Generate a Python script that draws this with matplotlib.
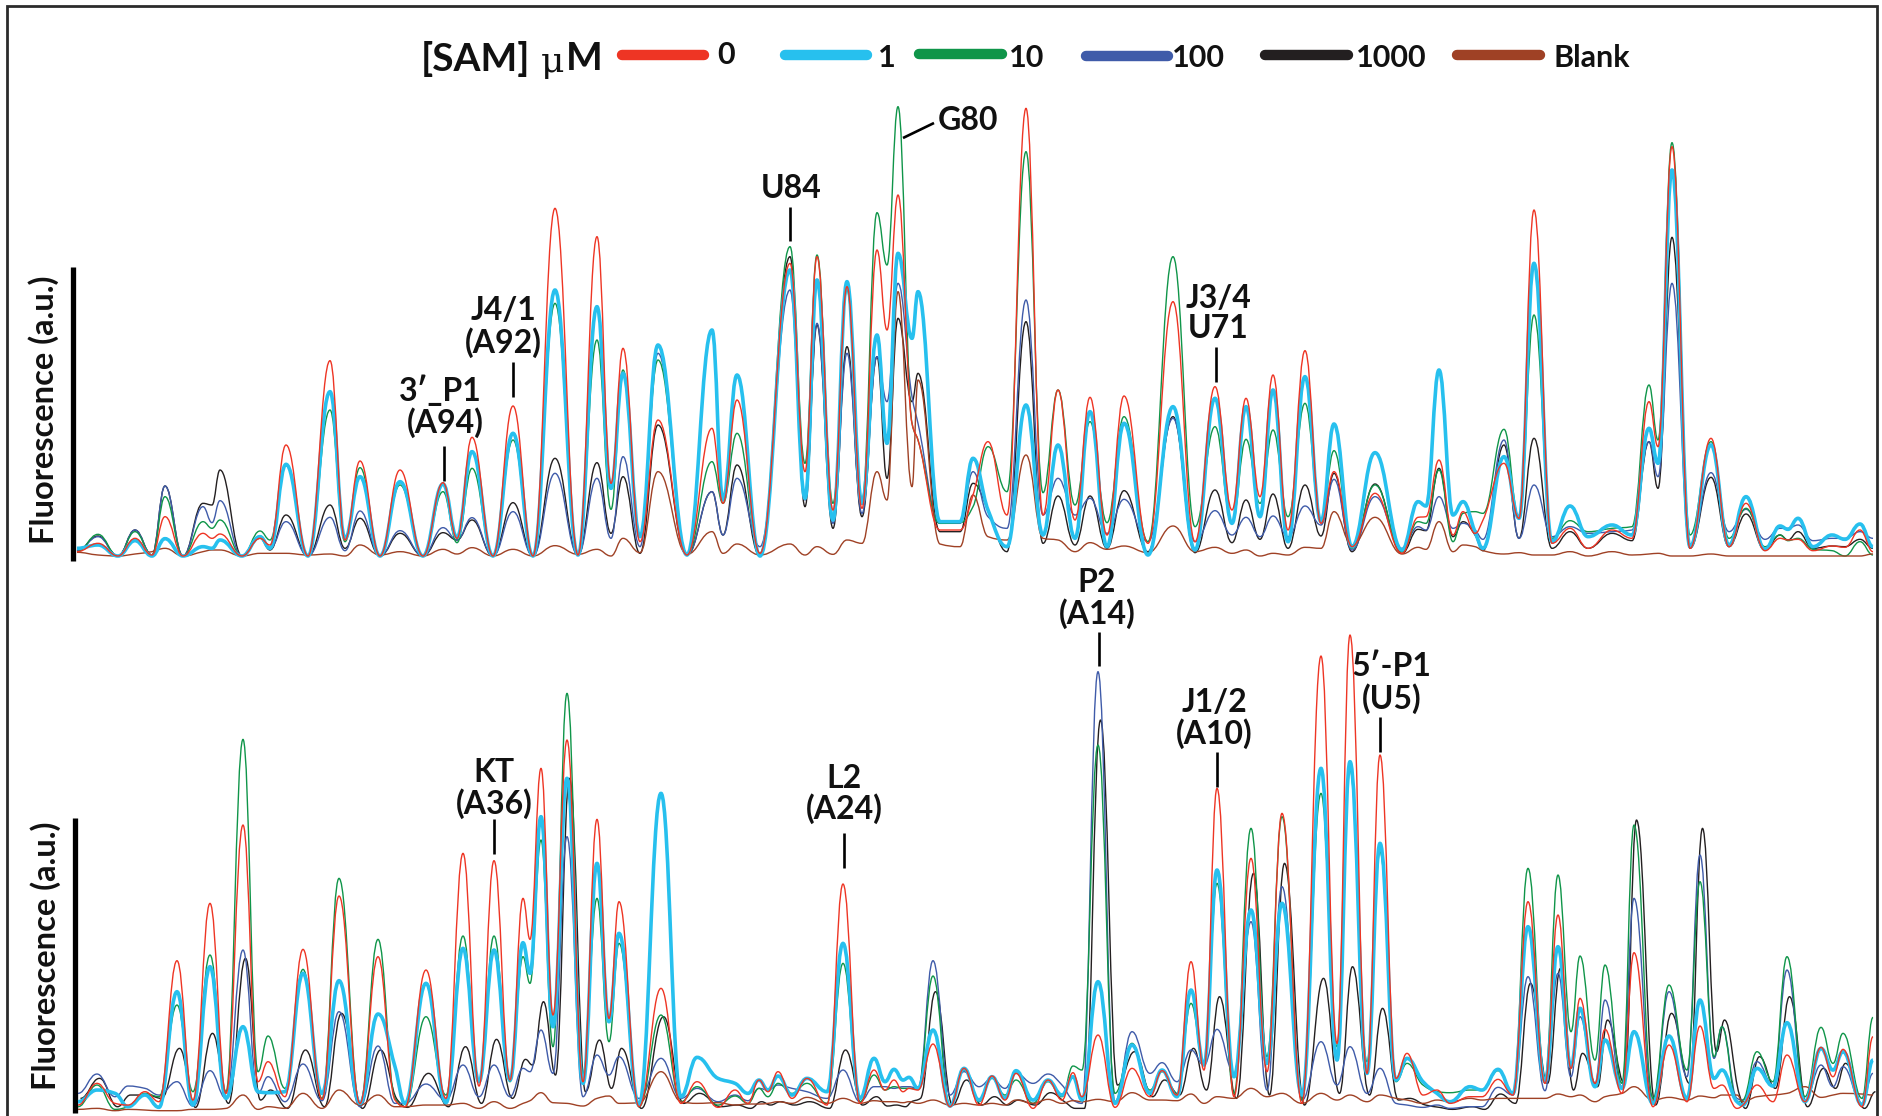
import numpy as np
import matplotlib
matplotlib.use('Agg')
import matplotlib.pyplot as plt
from matplotlib.path import Path
from matplotlib.patches import PathPatch

plt.rcParams['font.family'] = ['Lato', 'DejaVu Sans']

W, H = 1883, 1116
TOP_BASE = 556
BOT_BASE = 1110.7
UNITS_PER_PX = 3.0

# electropherogram readings: position along the trace, signal height (a.u.)
top_x = [77,98,118,135,152,165,183,203,212,220,242,260,270,286,308,330,345,360,380,400,423,443,457,472,493,513,533,
         555,578,597,611,623,640,658,687,712,723,737,760,790,805,817,833,847,862,877,887,898,912,918,940,960,973,988,1007,1026,
         1043,1058,1075,1090,1107,1124,1148,1173,1195,1215,1232,1246,1260,1273,1288,1305,1321,1334,1352,1375,1402,1418,1426,1439,1453,1463,
         1475,1483,1504,1519,1534,1552,1570,1588,1612,1632,1649,1658,1672,1690,1711,1729,1746,1765,1780,1788,1798,1813,1832,1845,1860,1873]
top_0 = [13,38,0,53,3,118,0,68,53,66,0,53,33,333,0,586,48,285,0,258,0,220,53,356,0,450,0,
         1043,3,958,218,623,43,408,3,383,158,468,8,878,253,898,138,808,143,918,678,1083,398,348,78,78,183,343,123,1343,
         123,498,108,476,63,480,38,763,43,508,138,473,178,543,78,616,98,253,28,188,8,116,118,288,63,133,
         68,108,278,113,1038,38,83,23,78,53,463,328,1228,23,353,28,158,16,53,48,50,16,30,26,78,13]
top_1 = [23,33,0,46,0,52,0,28,23,48,0,58,23,275,0,493,53,238,0,223,0,216,56,313,0,368,0,
         798,3,748,203,548,58,633,3,678,168,543,0,858,173,828,108,823,158,663,338,908,653,793,103,103,293,138,28,453,
         63,333,53,433,28,398,3,448,18,473,98,448,118,498,43,538,103,396,28,310,18,163,150,558,123,163,
         73,23,298,113,878,43,150,58,93,63,383,278,1158,28,333,33,178,20,90,80,113,28,63,50,96,28]
top_10 = [13,65,0,73,3,178,0,103,83,108,0,75,48,273,0,438,43,265,0,213,0,193,40,263,0,348,0,
          758,3,648,140,558,58,588,3,283,158,368,8,928,278,903,158,798,168,1030,873,1348,398,348,98,100,148,328,193,1213,
          190,498,153,403,100,418,43,898,88,388,98,350,158,378,118,458,108,316,23,213,13,103,98,258,43,128,
          133,128,380,113,723,53,106,73,83,88,513,348,1240,63,343,53,143,28,63,46,53,20,16,0,43,3]
top_100 = [16,58,0,78,3,210,0,148,100,166,0,60,23,103,0,116,16,135,0,76,0,85,48,115,0,133,0,
           248,3,233,53,298,28,608,3,193,63,233,28,798,168,698,98,608,128,598,463,818,478,398,98,98,253,118,83,768,
           123,233,123,173,68,170,43,413,43,136,63,116,58,120,58,150,93,230,18,178,23,88,78,178,83,98,
           78,50,348,53,213,58,88,68,73,78,343,238,818,28,250,73,140,50,83,83,93,46,53,53,73,53]
top_1000 = [16,60,0,78,3,210,0,158,153,258,0,53,18,123,0,153,23,113,0,68,0,70,48,108,0,160,0,
            293,3,280,68,238,8,393,3,193,63,273,0,898,148,693,83,628,118,598,233,713,463,548,73,73,218,138,13,703,
            38,180,33,180,23,196,13,418,10,198,40,168,50,186,23,213,60,248,13,216,8,80,76,263,58,103,
            63,16,333,53,353,23,73,23,68,46,343,203,956,23,236,28,126,18,63,48,73,23,30,28,50,23]
top_blank = [11,3,0,6,13,23,0,13,18,18,0,8,8,8,3,6,0,33,3,13,0,20,6,25,0,20,0,
             31,5,20,0,53,10,253,5,73,8,36,3,36,3,28,5,48,38,253,168,793,208,528,36,28,183,58,48,303,
             53,48,13,40,20,30,10,90,13,26,8,18,0,8,3,26,23,133,33,116,6,26,20,103,13,33,
             28,16,6,10,3,3,13,0,13,3,6,8,0,0,6,0,0,0,0,0,0,0,0,0,0,6]

bot_x = [78,97,115,128,145,159,177,193,210,226,243,258,268,285,303,322,339,360,378,395,405,426,446,463,479,494,510,523,530,
         541,553,567,583,597,609,619,639,661,681,697,718,735,748,759,768,778,792,807,827,843,860,874,885,894,903,909,918,933,950,964,979,992,1005,
         1016,1033,1048,1062,1073,1082,1098,1115,1132,1150,1162,1177,1191,1204,1217,1234,1251,1267,1282,1302,1321,1337,1350,1367,1380,1396,1407,1423,1437,1450,1470,
         1482,1498,1513,1528,1545,1558,1571,1580,1595,1605,1622,1634,1653,1669,1687,1700,1714,1722,1737,1743,1757,1773,1787,1805,1821,1833,1843,1862,1873]
bot_0 = [17,82,22,17,57,27,450,32,622,52,857,87,147,42,484,34,644,22,462,32,12,422,37,772,74,750,92,637,514,
         1027,287,1112,87,874,277,627,12,367,22,87,10,62,22,92,57,117,37,97,17,680,22,122,62,92,57,67,62,200,12,127,17,104,32,
         112,7,92,32,114,42,227,10,127,42,120,47,447,122,967,42,757,117,892,22,1364,202,1427,112,1067,97,172,47,62,22,42,
         42,94,47,627,82,587,127,337,82,244,52,474,12,197,27,254,67,77,7,17,77,27,167,27,190,102,184,12,222]
bot_1 = [27,62,52,12,47,10,357,17,432,37,252,57,54,57,412,52,390,22,290,132,22,382,24,487,87,482,92,504,412,
         882,252,997,82,742,267,532,17,952,42,160,97,82,52,92,62,104,47,97,57,502,37,157,87,124,92,100,67,242,14,127,32,102,37,
         120,32,92,47,102,32,387,22,197,52,122,42,362,137,722,102,602,142,622,47,1027,152,1047,112,802,92,157,87,52,27,72,
         62,124,52,552,87,492,132,307,72,212,67,237,22,224,37,332,97,122,27,17,127,74,264,27,187,122,177,17,152]
bot_10 = [12,77,4,12,52,42,317,57,467,57,1114,117,224,67,424,37,697,22,514,37,12,282,47,524,87,524,87,462,382,
          812,192,1252,112,637,207,502,12,287,27,72,17,44,22,67,42,82,52,82,22,442,27,107,62,72,67,67,64,404,17,122,27,97,47,
          92,22,87,42,134,122,1097,52,202,62,117,52,322,137,682,52,847,162,882,32,952,192,1022,147,777,87,142,77,57,54,62,
          62,120,52,727,97,707,237,464,152,437,82,857,37,377,122,687,162,252,27,32,177,87,462,42,250,142,232,37,280]
bot_100 = [52,110,42,74,67,47,87,14,120,37,482,52,102,27,140,30,297,12,194,22,22,80,32,137,42,137,42,127,117,
           242,112,822,42,167,107,162,37,157,37,67,27,47,30,67,62,77,67,57,37,122,27,72,72,67,72,72,67,450,47,117,72,97,67,
           112,82,110,77,32,22,1317,27,237,112,144,87,182,137,244,112,567,62,672,32,207,77,192,52,127,22,17,10,17,7,12,
           12,70,47,402,60,412,102,282,77,332,72,637,22,357,102,767,157,252,37,32,147,77,422,32,137,72,132,22,112]
bot_1000 = [37,97,12,47,47,37,187,10,232,22,457,32,62,7,182,12,292,7,182,32,10,112,12,192,22,214,37,154,137,
            327,107,997,57,212,67,187,7,282,22,52,12,17,7,27,17,27,17,27,7,182,17,42,14,17,12,27,37,357,17,92,17,42,17,
            32,17,54,27,7,7,1172,77,177,42,92,47,187,62,342,37,712,47,742,17,397,52,432,47,307,32,37,17,10,4,12,
            4,50,22,382,82,427,62,172,72,272,82,872,17,292,82,847,177,272,47,7,162,67,342,12,127,67,142,7,57]
bot_blank = [4,7,0,4,2,0,0,4,4,7,47,4,12,7,52,7,62,17,47,12,12,17,17,22,7,27,7,22,30,
             54,24,22,14,37,44,22,24,117,27,22,24,17,20,20,22,27,22,40,22,37,22,30,27,27,24,27,22,32,17,22,17,22,17,
             32,22,34,22,30,27,34,27,54,32,32,30,50,22,42,37,67,42,52,22,52,32,47,27,47,37,32,22,32,27,37,
             32,37,37,37,37,50,42,47,27,42,52,72,32,40,32,44,39,47,47,27,42,47,52,72,40,47,52,50,47]

conc_labels = ['0', '1', '10', '100', '1000', 'Blank']

RED, CYAN, GREEN, BLUE, BLACK, BROWN = '#ee3524', '#27c0ee', '#0f9549', '#3f5ba9', '#231f20', '#9f4125'
colors = [RED, CYAN, GREEN, BLUE, BLACK, BROWN]
widths = [1.0, 2.6, 1.0, 1.0, 1.0, 1.0]
draw_order = [4, 3, 2, 5, 1, 0]


def trace_path(x, y):
    # smooth curve through the readings, flat at every peak and valley
    x = np.asarray(x, float)
    y = np.asarray(y, float)
    h = np.diff(x)
    d = np.diff(y) / h
    m = np.zeros_like(y)
    for i in range(1, len(y) - 1):
        if d[i - 1] * d[i] > 0:
            m[i] = 2 * d[i - 1] * d[i] / (d[i - 1] + d[i])
    verts = [(x[0], y[0])]
    codes = [Path.MOVETO]
    for i in range(len(h)):
        verts += [(x[i] + h[i] * 0.42, y[i] + m[i] * h[i] * 0.42),
                  (x[i + 1] - h[i] * 0.42, y[i + 1] - m[i + 1] * h[i] * 0.42),
                  (x[i + 1], y[i + 1])]
        codes += [Path.CURVE4] * 3
    return Path(verts, codes)


def draw_panel(ax, x, series, shifts):
    for i in draw_order:
        xs = np.asarray(x, float) + shifts[i]
        ax.add_patch(PathPatch(trace_path(xs, series[i]), fill=False, edgecolor=colors[i],
                               linewidth=widths[i], joinstyle='round', clip_on=False))


fig = plt.figure(figsize=(W / 100, H / 100), dpi=100, facecolor='white')

# overlay in image pixels for frame, labels, scale bars
ax0 = fig.add_axes([0, 0, 1, 1])
ax0.set_xlim(0, W)
ax0.set_ylim(H, 0)
ax0.axis('off')

ax_top = fig.add_axes([0, (H - TOP_BASE) / H, 1, 480 / H])
ax_top.set_xlim(0, W)
ax_top.set_ylim(0, 480 * UNITS_PER_PX)
ax_top.axis('off')

ax_bot = fig.add_axes([0, (H - BOT_BASE) / H, 1, 500 / H])
ax_bot.set_xlim(0, W)
ax_bot.set_ylim(0, 500 * UNITS_PER_PX)
ax_bot.axis('off')

draw_panel(ax_top, top_x, [top_0, top_1, top_10, top_100, top_1000, top_blank], [0, 0, 0, 0, 0, 0])
draw_panel(ax_bot, bot_x, [bot_0, bot_1, bot_10, bot_100, bot_1000, bot_blank], [0, 0, 0, 0, 2.5, 0])

# frame, open at the bottom
ax0.plot([7, 7, 1877, 1877], [H, 6, 6, H], color='#2b2b2b', lw=2.0, solid_joinstyle='miter')

# scale bars
ax0.plot([73, 73], [267, 561], color='black', lw=3.8, solid_capstyle='butt')
ax0.plot([75, 75], [818, 1113], color='black', lw=3.8, solid_capstyle='butt')

FONT = dict(fontweight='bold', color='#111111', ha='center', va='center')

ax0.text(44, 410, 'Fluorescence (a.u.)', rotation=90, fontsize=23.5, **FONT)
ax0.text(46, 956, 'Fluorescence (a.u.)', rotation=90, fontsize=23.5, **FONT)

# legend
ax0.text(476, 59, '[SAM]', fontsize=28, **FONT)
ax0.text(553, 62, 'μ', fontsize=26, family='DejaVu Serif', color='#111111', ha='center', va='center')
ax0.text(584, 59, 'M', fontsize=28, **FONT)
legend_x0 = [617, 780, 914, 1081, 1260, 1452]
legend_x1 = [709, 872, 1007, 1173, 1353, 1545]
legend_y = [55, 55, 54, 56, 55, 55]
legend_tx = [726, 887, 1027, 1198, 1391, 1592]
legend_ty = [55, 58, 58, 58, 58, 58]
for i in range(6):
    ax0.plot([legend_x0[i] + 5, legend_x1[i] - 5], [legend_y[i], legend_y[i]], color=colors[i], lw=7.5,
             solid_capstyle='round')
    ax0.text(legend_tx[i], legend_ty[i], conc_labels[i], fontsize=22, **FONT)

# site labels
labels = [('J4/1', 503, 311), ('(A92)', 503, 343), ("3′_P1", 440, 390), ('(A94)', 445, 423),
          ('G80', 968, 120), ('U84', 791, 189), ('J3/4', 1219, 299), ('U71', 1218, 329),
          ('P2', 1097, 583), ('(A14)', 1097, 614), ('J1/2', 1214, 702), ('(A10)', 1214, 734),
          ("5′-P1", 1391, 667), ('(U5)', 1392, 699), ('KT', 494, 772), ('(A36)', 494, 804),
          ('L2', 844, 778), ('(A24)', 844, 809)]
for txt, lx, ly in labels:
    ax0.text(lx, ly, txt, fontsize=23, **FONT)

ticks = [(513, 362, 513, 397), (444, 446, 444, 481), (790, 207, 790, 241), (1216, 347, 1216, 382),
         (903, 138, 934, 123), (1099, 632, 1099, 666), (1217, 752, 1217, 787), (1380, 717, 1380, 752),
         (494, 819, 494, 854), (844, 833, 844, 868)]
for x0, y0, x1, y1 in ticks:
    ax0.plot([x0, x1], [y0, y1], color='black', lw=1.9, solid_capstyle='butt')

fig.savefig('out.png', dpi=100)
